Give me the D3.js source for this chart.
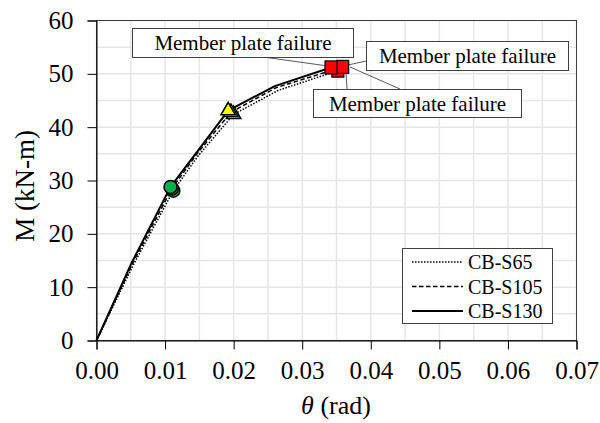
<!DOCTYPE html>
<html>
<head>
<meta charset="utf-8">
<script src="https://cdn.jsdelivr.net/npm/d3@7/dist/d3.min.js"></script>
</head>
<body style="margin:0">
<svg id="chart" width="600" height="423"></svg>
<script>
// ---- data ----
const seriesNames = ["CB-S65", "CB-S105", "CB-S130"];
const thetaS65  = [0, 0.0053, 0.0112, 0.0148, 0.0200, 0.0265, 0.0352];
const momentS65 = [0, 14.0,   28.1,   34.6,   42.4,   46.9,   50.6];
const thetaS105  = [0, 0.0052, 0.0110, 0.0146, 0.0196, 0.0262, 0.0359];
const momentS105 = [0, 14.3,   28.5,   34.9,   42.8,   47.4,   51.3];
const thetaS130  = [0, 0.0051, 0.0108, 0.0145, 0.0192, 0.0260, 0.0342];
const momentS130 = [0, 14.5,   28.8,   35.1,   43.1,   47.7,   51.2];
// indices of marked points along each curve: circle, triangle, square (failure)
const markerIndex = [2, 4, 6];
const xTicks = [0, 0.01, 0.02, 0.03, 0.04, 0.05, 0.06, 0.07];
const yTicks = [0, 10, 20, 30, 40, 50, 60];
const annotationText = "Member plate failure";

// ---- layout ----
const FONT = '"Liberation Serif"';
const svg = d3.select("#chart");
const L = 96.5, R = 576.5, T = 20.5, B = 340.5;
const x = d3.scaleLinear().domain([0, 0.07]).range([L, R]);
const y = d3.scaleLinear().domain([0, 60]).range([B, T]);

// gridlines (major + minor)
const grid = svg.append("g");
const xGrid = d3.range(0, 0.0701, 0.005);
const yGrid = d3.range(0, 60.1, 5);
grid.selectAll("line.gx").data(xGrid).enter().append("line")
  .attr("x1", d => x(d)).attr("x2", d => x(d)).attr("y1", T).attr("y2", B)
  .attr("stroke", "#e6e6e6").attr("stroke-width", 1.5);
grid.selectAll("line.gy").data(yGrid).enter().append("line")
  .attr("x1", L).attr("x2", R).attr("y1", d => y(d)).attr("y2", d => y(d))
  .attr("stroke", "#e6e6e6").attr("stroke-width", 1.5);

// plot border
svg.append("rect").attr("x", L).attr("y", T).attr("width", R - L).attr("height", B - T)
  .attr("fill", "none").attr("stroke", "#404040").attr("stroke-width", 1);

// axes
const xAxis = svg.append("g").attr("transform", `translate(0,${B})`)
  .call(d3.axisBottom(x).tickValues(xTicks).tickFormat(d3.format(".2f")).tickSize(9).tickPadding(12));
const yAxis = svg.append("g").attr("transform", `translate(${L},0)`)
  .call(d3.axisLeft(y).tickValues(yTicks).tickFormat(d3.format("d")).tickSize(9).tickPadding(14));
[xAxis, yAxis].forEach(a => {
  a.attr("font-family", FONT).attr("font-size", 25);
  a.select(".domain").attr("stroke", "#000");
  a.selectAll(".tick line").attr("stroke", "#000");
  a.selectAll(".tick text").attr("font-size", 25).attr("fill", "#000");
});

// axis titles
svg.append("text").attr("transform", "translate(34,186) rotate(-90)")
  .attr("text-anchor", "middle").attr("font-size", 27).text("M (kN-m)");
const xt = svg.append("text").attr("x", 336).attr("y", 414).attr("text-anchor", "middle")
  .attr("font-size", 26);
xt.append("tspan").attr("font-style", "italic").text("θ");
xt.append("tspan").text(" (rad)");

// series
const seriesData = [
  { name: seriesNames[0], t: thetaS65, m: momentS65, dash: "1.5,1.5", w: 1.5 },
  { name: seriesNames[1], t: thetaS105, m: momentS105, dash: "4.5,2.5", w: 1.5 },
  { name: seriesNames[2], t: thetaS130, m: momentS130, dash: null, w: 2 }
];
const line = d3.line().x(d => x(d[0])).y(d => y(d[1])).curve(d3.curveLinear);
const lines = svg.append("g");
seriesData.forEach(s => {
  const pts = s.t.map((t, i) => [t, s.m[i]]);
  lines.append("path").datum(pts).attr("d", line)
    .attr("fill", "none").attr("stroke", "#000").attr("stroke-width", s.w)
    .attr("stroke-linejoin", "round").attr("stroke-dasharray", s.dash);
});

// annotation boxes and leader lines (drawn under markers)
const ann = svg.append("g");
const leaders = [
  [263, 57, 328, 66],
  [366, 61, 348, 65],
  [346, 72, 347, 89],
  [350, 67, 400, 89]
];
leaders.forEach(l => ann.append("line").attr("x1", l[0]).attr("y1", l[1]).attr("x2", l[2]).attr("y2", l[3])
  .attr("stroke", "#595959").attr("stroke-width", 1));
const boxes = [
  [132.5, 28.5, 221, 29],
  [366.5, 41.5, 202, 29],
  [313.5, 89.5, 208, 28]
];
boxes.forEach(b => {
  ann.append("rect").attr("x", b[0]).attr("y", b[1]).attr("width", b[2]).attr("height", b[3])
    .attr("fill", "#fff").attr("stroke", "#404040").attr("stroke-width", 1);
  ann.append("text").attr("x", b[0] + b[2] / 2).attr("y", b[1] + b[3] / 2 + 7)
    .attr("text-anchor", "middle").attr("font-size", 21).text(annotationText);
});

// markers
const mk = svg.append("g");
seriesData.forEach(s => {
  const ci = markerIndex[0], ti = markerIndex[1], si = markerIndex[2];
  mk.append("circle").attr("cx", x(s.t[ci])).attr("cy", y(s.m[ci])).attr("r", 6.5)
    .attr("fill", "#00b050").attr("stroke", "#000").attr("stroke-width", 1.5);
  const tx = x(s.t[ti]), ty = y(s.m[ti]);
  mk.append("path").attr("d", d3.symbol(d3.symbolTriangle, 90)()).attr("transform", `translate(${tx},${ty})`)
    .attr("fill", "#ffff00").attr("stroke", "#000").attr("stroke-width", 1.5);
  const sx = x(s.t[si]), sy = y(s.m[si]);
  mk.append("rect").attr("x", sx - 6).attr("y", sy - 6.5).attr("width", 12).attr("height", 13)
    .attr("fill", "#ff0000").attr("stroke", "#000").attr("stroke-width", 1.2);
});

// legend
const lg = svg.append("g");
lg.append("rect").attr("x", 402.5).attr("y", 248.5).attr("width", 150).attr("height", 75)
  .attr("fill", "#fff").attr("stroke", "#404040").attr("stroke-width", 1);
seriesData.forEach((s, i) => {
  const ly = 262 + i * 24.5;
  lg.append("line").attr("x1", 412).attr("x2", 463).attr("y1", ly).attr("y2", ly)
    .attr("stroke", "#000").attr("stroke-width", s.w).attr("stroke-dasharray", s.dash);
  lg.append("text").attr("x", 468).attr("y", ly + 7).attr("font-size", 20).text(s.name);
});

// serif font on every text node
svg.selectAll("text").attr("font-family", FONT);
</script>
</body>
</html>
